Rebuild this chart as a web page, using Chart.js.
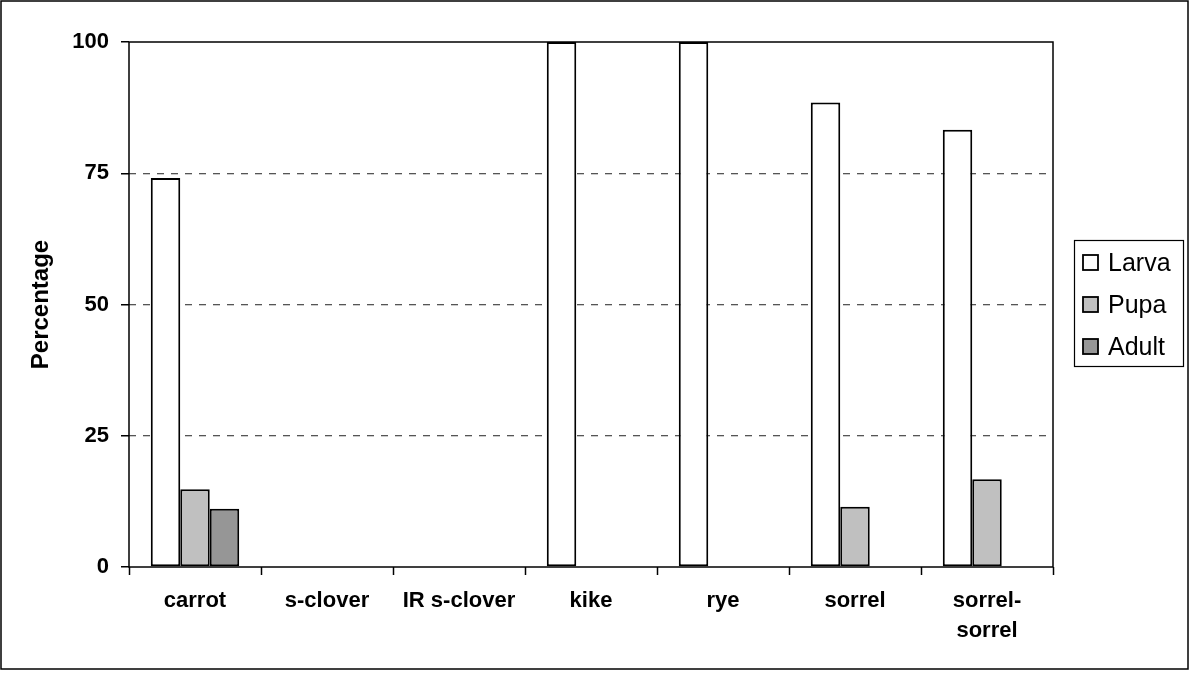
<!DOCTYPE html>
<html>
<head>
<meta charset="utf-8">
<script src="https://cdn.jsdelivr.net/npm/chart.js@4"></script>
<style>
  body { margin: 0; background: #fff; }
  canvas { display: block; }
</style>
</head>
<body>
<canvas id="stageChart" width="1192" height="673"></canvas>
<script>
var categories = ['carrot', 's-clover', 'IR s-clover', 'kike', 'rye', 'sorrel', ['sorrel-', 'sorrel']];
var larva = [74.1, 0, 0, 100, 100, 88.5, 83.3];
var pupa = [14.8, 0, 0, 0, 0, 11.5, 16.7];
var adult = [11.1, 0, 0, 0, 0, 0, 0];
var yTicks = [0, 25, 50, 75, 100];
var seriesNames = ['Larva', 'Pupa', 'Adult'];
var seriesColors = ['#FFFFFF', '#C0C0C0', '#969696'];

var FONT = "'Liberation Sans', Arial, sans-serif";

// plot frame, page border and the boxed legend
var frame = {
  id: 'frame',
  afterDraw: function (chart) {
    var c = chart.ctx, a = chart.chartArea;
    c.save();
    c.strokeStyle = '#000';
    c.lineWidth = 1.5;
    c.strokeRect(a.left, a.top, a.right - a.left, a.bottom - a.top);
    c.strokeRect(1, 1, 1187, 668);

    c.lineWidth = 1.2;
    c.strokeRect(1074.5, 240.5, 109, 126);
    c.font = '25px ' + FONT;
    c.textBaseline = 'middle';
    chart.data.datasets.forEach(function (ds, i) {
      var y = 263 + i * 42;
      c.fillStyle = ds.backgroundColor;
      c.fillRect(1083, y - 8, 15, 15);
      c.lineWidth = 1.8;
      c.strokeRect(1083, y - 8, 15, 15);
      c.fillStyle = '#000';
      c.fillText(ds.label, 1108, y + 1);
    });
    c.restore();
  }
};

var ctx = document.getElementById('stageChart');
var myChart = new Chart(ctx, {
  type: 'bar',
  data: {
    labels: categories,
    datasets: [larva, pupa, adult].map(function (vals, i) {
      return {
        label: seriesNames[i],
        data: vals,
        backgroundColor: seriesColors[i],
        borderColor: '#000',
        borderWidth: 2,
        borderSkipped: false,
        categoryPercentage: 0.67,
        barPercentage: 1.0
      };
    })
  },
  options: {
    responsive: false,
    animation: false,
    layout: { padding: { left: 0, right: 139, top: 42, bottom: 0 } },
    plugins: {
      legend: { display: false },
      tooltip: { enabled: false }
    },
    scales: {
      x: {
        border: { display: false },
        grid: {
          drawOnChartArea: false,
          drawTicks: true,
          tickLength: 8,
          tickColor: '#000',
          tickWidth: 1.5,
          offset: true
        },
        ticks: {
          color: '#000',
          font: { family: FONT, size: 22, weight: 'bold', lineHeight: 1.35 },
          padding: 11,
          maxRotation: 0,
          autoSkip: false
        },
        afterFit: function (scale) { scale.height = 673 - 567; }
      },
      y: {
        min: 0,
        max: 100,
        afterBuildTicks: function (scale) {
          scale.ticks = yTicks.map(function (v) { return { value: v }; });
        },
        border: { display: false, dash: [7, 7] },
        grid: {
          color: function (c) {
            var v = c.tick ? c.tick.value : 0;
            return (v === 0 || v === 100) ? 'rgba(0,0,0,0)' : '#555';
          },
          lineWidth: 1.3,
          tickLength: 8,
          tickColor: '#000',
          tickWidth: 1.5,
          tickBorderDash: [1, 0]
        },
        ticks: {
          color: '#000',
          font: { family: FONT, size: 22, weight: 'bold' },
          padding: 12
        },
        title: {
          display: true,
          text: 'Percentage',
          color: '#000',
          font: { family: FONT, size: 24, weight: 'bold' },
          padding: { top: 27, bottom: 0 }
        },
        afterFit: function (scale) { scale.width = 129; }
      }
    }
  },
  plugins: [frame]
});
</script>
</body>
</html>
